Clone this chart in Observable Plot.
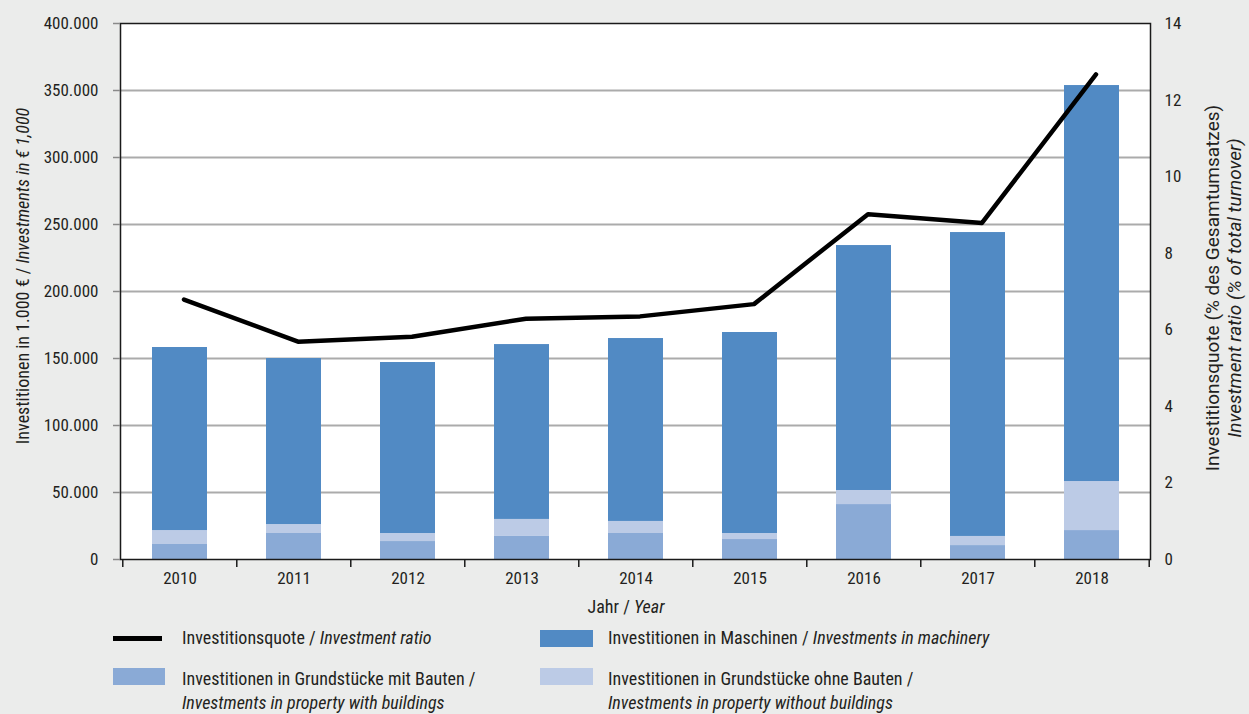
<!DOCTYPE html>
<html>
<head>
<meta charset="utf-8">
<script src="https://cdn.jsdelivr.net/npm/d3@7"></script>
<script src="https://cdn.jsdelivr.net/npm/@observablehq/plot@0.6"></script>
<style>
  html, body { margin: 0; padding: 0; background: #ebeceb; }
  #chart { position: relative; width: 1249px; height: 714px; font-family: Roboto, "Open Sans", sans-serif; font-stretch: condensed; color: #231f20; }
  .lg { position: absolute; font-size: 18px; line-height: 24px; white-space: nowrap; }
  .sw { position: absolute; }
</style>
</head>
<body>
<div id="chart"></div>
<script>
// ---- data ----
const years = ["2010", "2011", "2012", "2013", "2014", "2015", "2016", "2017", "2018"];
const withBuildings    = [11200, 19400, 13400, 17200, 19400, 14900, 41000, 10400, 21600];
const withoutBuildings = [10400, 6700, 6000, 12700, 9000, 4500, 10500, 6800, 36600];
const machinery        = [136600, 123900, 127600, 130500, 136500, 150000, 182800, 226800, 295500];
const investmentRatio  = [6.79, 5.69, 5.82, 6.29, 6.35, 6.67, 9.02, 8.79, 12.67];

const seriesNames = [
  "Investitionen in Grundstücke mit Bauten",
  "Investitionen in Grundstücke ohne Bauten",
  "Investitionen in Maschinen"
];
const seriesColors = ["#8aaad6", "#bccbe6", "#518ac4"];
const leftTicks = [0, 50000, 100000, 150000, 200000, 250000, 300000, 350000, 400000];
const gridValues = [50000, 100000, 150000, 200000, 250000, 300000, 350000];
const rightTicks = [0, 2, 4, 6, 8, 10, 12, 14];
const leftMax = 400000, rightMax = 14;
const K = leftMax / rightMax;

// ---- tables ----
const seriesValues = [withBuildings, withoutBuildings, machinery];
const bars = [];
years.forEach((y, i) => seriesValues.forEach((vals, s) => bars.push({year: y, series: seriesNames[s], value: vals[i]})));
const ratioRows = years.map((y, i) => ({year: y, ratio: investmentRatio[i]}));

const W = 1249, H = 620, mL = 120, mR = 99, mT = 23, mB = 61;
const step = (W - mL - mR) / years.length;
const fmt = d => d3.format(",")(d).replace(/,/g, ".");
const FONT = 'Roboto, "Open Sans", sans-serif';

const plot = Plot.plot({
  width: W, height: H,
  marginLeft: mL, marginRight: mR, marginTop: mT, marginBottom: mB,
  style: {fontFamily: FONT, fontStretch: "condensed", fontSize: "17px", background: "transparent", color: "#231f20", overflow: "visible"},
  x: {type: "band", domain: years, paddingInner: 0.52, paddingOuter: 0.26, label: null},
  y: {domain: [0, leftMax], label: null},
  color: {domain: seriesNames, range: seriesColors},
  marks: [
    Plot.frame({fill: "white", stroke: null}),
    Plot.ruleY(gridValues, {stroke: "#ababab", strokeWidth: 2}),
    Plot.barY(bars, {x: "year", y: "value", fill: "series"}),
    Plot.line(ratioRows, {x: "year", y: d => d.ratio * K, stroke: "black", strokeWidth: 4.5, strokeLinecap: "round", strokeLinejoin: "round", dx: 4}),
    Plot.frame({stroke: "#1a1a1a", strokeWidth: 1.5}),
    // left ticks (marks only) + labels
    Plot.axisY({anchor: "left", ticks: leftTicks, tickFormat: () => "", tickSize: 7, stroke: "#8a8a8a", strokeWidth: 1.5, label: null}),
    Plot.text(leftTicks, {y: d => d, text: fmt, frameAnchor: "left", textAnchor: "end", dx: -22, fill: "#231f20"}),
    // right axis labels (secondary scale)
    Plot.text(rightTicks, {y: d => d * K, text: d => String(d), frameAnchor: "right", textAnchor: "start", dx: 14, fill: "#231f20"}),
    Plot.axisX({tickSize: 0, tickPadding: 12, fill: "#231f20", label: null}),
    Plot.ruleX(years, {x: d => d, y1: 0, y2: 0, insetBottom: -8, dx: -step / 2, stroke: "#1a1a1a", strokeWidth: 1.5}),
    Plot.ruleX(years.slice(-1), {x: d => d, y1: 0, y2: 0, insetBottom: -8, dx: step / 2, stroke: "#1a1a1a", strokeWidth: 1.5})
  ]
});

const chart = document.getElementById("chart");
chart.appendChild(plot);

// axis titles
const svg = d3.select(plot);
const tg = svg.append("g").attr("fill", "#231f20").attr("font-family", FONT);
const xt = tg.append("text").attr("x", 626).attr("y", 613).attr("text-anchor", "middle")
  .attr("font-size", 18).style("font-stretch", "condensed");
xt.append("tspan").text("Jahr / ");
xt.append("tspan").attr("font-style", "italic").text("Year");
const yl = tg.append("text").attr("transform", "translate(29,276) rotate(-90)").attr("text-anchor", "middle")
  .attr("font-size", 18).style("font-stretch", "condensed");
yl.append("tspan").text("Investitionen in 1.000 € / ");
yl.append("tspan").attr("font-style", "italic").text("Investments in € 1,000");
tg.append("text").attr("transform", "translate(1219,288) rotate(-90)").attr("text-anchor", "middle")
  .attr("font-size", 19).style("font-stretch", "normal")
  .text("Investitionsquote (% des Gesamtumsatzes)");
tg.append("text").attr("transform", "translate(1241,288) rotate(-90)").attr("text-anchor", "middle")
  .attr("font-size", 19).style("font-stretch", "normal")
  .attr("font-style", "italic").text("Investment ratio (% of total turnover)");

// legend (HTML below the svg)
function el(cls, css, html) {
  const d = document.createElement("div");
  d.className = cls;
  Object.assign(d.style, css);
  if (html) d.innerHTML = html;
  chart.appendChild(d);
}
el("sw", {left: "113px", top: "636px", width: "49px", height: "5px", background: "black"});
el("lg", {left: "182px", top: "626px"}, "Investitionsquote / <i>Investment ratio</i>");
el("sw", {left: "540px", top: "630px", width: "53px", height: "17px", background: seriesColors[2]});
el("lg", {left: "608px", top: "626px"}, seriesNames[2] + " / <i>Investments in machinery</i>");
el("sw", {left: "113px", top: "668px", width: "52px", height: "17px", background: seriesColors[0]});
el("lg", {left: "182px", top: "667px"}, seriesNames[0] + " /<br><i>Investments in property with buildings</i>");
el("sw", {left: "540px", top: "668px", width: "53px", height: "17px", background: seriesColors[1]});
el("lg", {left: "608px", top: "667px"}, seriesNames[1] + " /<br><i>Investments in property without buildings</i>");
</script>
</body>
</html>
